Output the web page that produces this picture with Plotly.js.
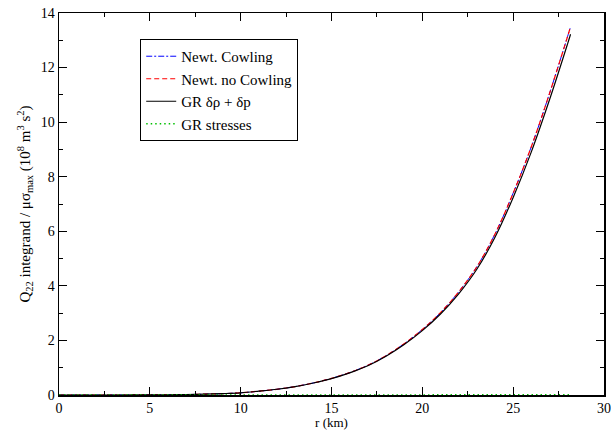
<!DOCTYPE html>
<html>
<head>
<meta charset="utf-8">
<script src="https://cdn.plot.ly/plotly-3.0.1.min.js"></script>
<style>html,body{margin:0;padding:0;background:#fff;}#chart{width:611px;height:430px;}</style>
</head>
<body>
<div id="chart"></div>
<script>
// radius (km)
const r = [0,1,2,3,4,5,6,7,8,9,10,11,12,13,14,15,16,17,18,19,20,21,22,23,24,25,26,27,28,28.16];
// Newtonian, Cowling approximation
const newtCowling = [0,0,0,0.0005,0.001,0.003,0.007,0.015,0.03,0.05,0.08,0.14,0.21,0.31,0.44,0.61,0.82,1.09,1.44,1.88,2.40,3.02,3.78,4.70,5.90,7.40,9.10,11.05,13.15,13.5];
// Newtonian, no Cowling
const newtNoCowling = [0,0,0,0.0005,0.001,0.003,0.007,0.015,0.03,0.05,0.08,0.14,0.21,0.31,0.44,0.61,0.82,1.09,1.44,1.88,2.40,3.02,3.78,4.70,5.90,7.40,9.10,11.05,13.15,13.5];
// GR delta rho + delta p
const grRhoP = [0,0,0,0.0005,0.001,0.003,0.007,0.015,0.03,0.05,0.08,0.14,0.21,0.31,0.44,0.60,0.81,1.07,1.42,1.85,2.36,2.97,3.71,4.61,5.78,7.24,8.91,10.82,12.88,13.22];
// GR stresses
const grStresses = [0,0,0,0,0,0,0,0,0,0,0,0,0.001,0.001,0.001,0.002,0.002,0.003,0.003,0.004,0.004,0.005,0.005,0.006,0.006,0.007,0.008,0.009,0.01,0.01];

const traces = [
  {x:r, y:newtCowling, name:'Newt. Cowling', mode:'lines', line:{color:'#0000ff', dash:'6px,2px,2px,2px', width:1, shape:'spline', smoothing:1}},
  {x:r, y:newtNoCowling, name:'Newt. no Cowling', mode:'lines', line:{color:'#ff0000', dash:'5px,3px', width:1.2, shape:'spline', smoothing:1}},
  {x:r, y:grRhoP, name:'GR δρ + δp', mode:'lines', line:{color:'#000000', width:1.2, shape:'spline', smoothing:1}},
  {x:r, y:grStresses, name:'GR stresses', mode:'lines', line:{color:'#00c000', dash:'1.5px,3px', width:1.5, shape:'spline', smoothing:1}}
];

const fam = 'Liberation Serif';
const font = {family:fam, color:'#000', size:14};

const layout = {
  width:611, height:430,
  margin:{l:59, r:7, t:13, b:35},
  paper_bgcolor:'#fff', plot_bgcolor:'#fff',
  font:font,
  showlegend:true,
  legend:{x:0.149, y:0.932, xanchor:'left', yanchor:'top', bgcolor:'#fff', bordercolor:'#000', borderwidth:1,
          font:{family:fam, size:15, color:'#000'}, tracegroupgap:0, itemwidth:30},
  xaxis:{range:[0,30], dtick:5, tick0:0, ticks:'inside', ticklen:8, tickwidth:1, tickcolor:'#000',
         minor:{dtick:2.5, ticks:'inside', ticklen:4, tickcolor:'#000', showgrid:false},
         showline:true, linecolor:'#000', linewidth:1.5, mirror:'ticks', showgrid:false, zeroline:false,
         tickfont:{family:fam, size:14, color:'#000'},
         title:{text:'r (km)', font:{family:fam, size:13, color:'#000'}, standoff:4}},
  yaxis:{range:[0,14], dtick:2, tick0:0, ticks:'inside', ticklen:8, tickwidth:1, tickcolor:'#000',
         minor:{dtick:1, ticks:'inside', ticklen:4, tickcolor:'#000', showgrid:false},
         showline:true, linecolor:'#000', linewidth:1.5, mirror:'ticks', showgrid:false, zeroline:false,
         tickfont:{family:fam, size:14, color:'#000'},
         title:{text:'Q<sub>22</sub> integrand / μσ<sub>max</sub> (10<sup>8</sup> m<sup>3</sup> s<sup>2</sup>)', font:{family:fam, size:15, color:'#000'}, standoff:6}}
};

Plotly.newPlot('chart', traces, layout, {displayModeBar:false, staticPlot:true});
</script>
</body>
</html>
